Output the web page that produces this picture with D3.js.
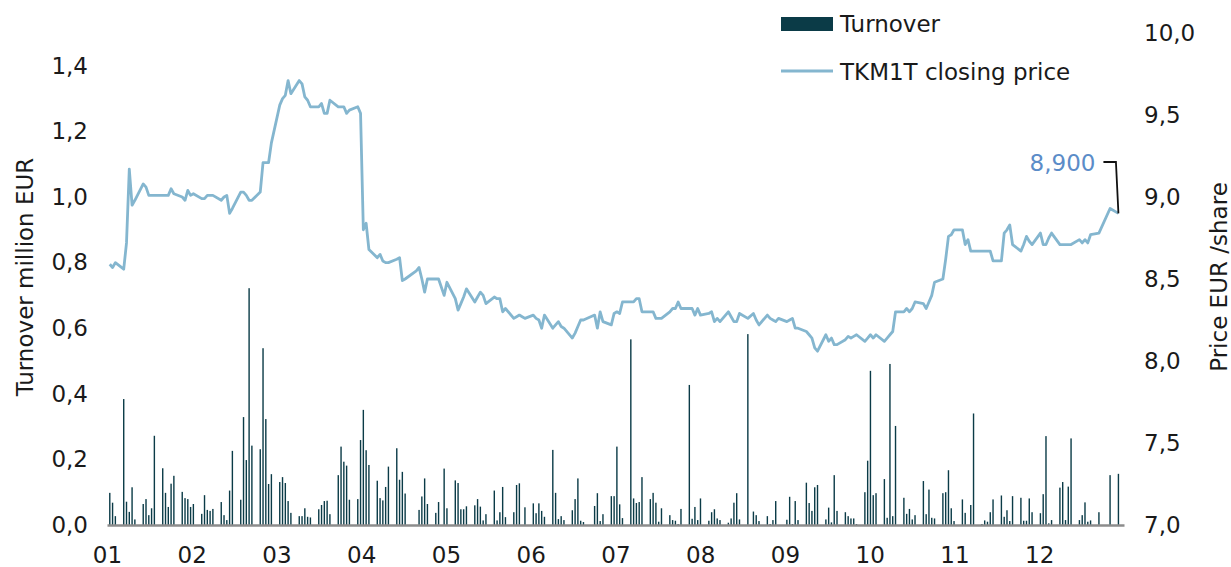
<!DOCTYPE html>
<html>
<head>
<meta charset="utf-8">
<script src="https://cdn.jsdelivr.net/npm/d3@7"></script>
<style>
  body { margin: 0; background: #fff; }
  svg text { font-family: "DejaVu Sans", sans-serif; fill: #1a1a1a; }
</style>
</head>
<body>
<svg id="chart" width="1231" height="567"></svg>
<script>
// TKM1T 2019 - daily turnover (million EUR) and closing price (EUR), one value per trading day
const year = 2019;
const holidays = ['2019-01-01', '2019-04-19', '2019-05-01', '2019-06-24', '2019-08-20',
                  '2019-12-24', '2019-12-25', '2019-12-26', '2019-12-31'];
const months = ['01', '02', '03', '04', '05', '06', '07', '08', '09', '10', '11', '12'];
const turnoverTicks = [0, 0.2, 0.4, 0.6, 0.8, 1.0, 1.2, 1.4];
const priceTicks = [7, 7.5, 8, 8.5, 9, 9.5, 10];

const closingPrice = [
  8.59, 8.57, 8.60, 8.56, 8.72, 9.17, 8.95, 8.98, 9.08, 9.06,
  9.01, 9.01, 9.01, 9.01, 9.01, 9.01, 9.05, 9.02, 9.00, 8.98,
  9.04, 9.01, 9.02, 8.99, 8.99, 9.01, 9.01, 9.01, 8.98, 9.00,
  9.01, 8.90, 8.93, 9.03, 9.03, 9.01, 8.98, 8.98, 9.03, 9.21,
  9.21, 9.21, 9.33, 9.56, 9.60, 9.62, 9.71, 9.63, 9.71, 9.69,
  9.61, 9.59, 9.55, 9.55, 9.57, 9.51, 9.51, 9.59, 9.55, 9.55,
  9.55, 9.51, 9.53, 9.55, 9.51, 8.80, 8.84, 8.68, 8.63, 8.65,
  8.61, 8.60, 8.60, 8.62, 8.63, 8.49, 8.50, 8.55, 8.57, 8.50,
  8.42, 8.50, 8.50, 8.50, 8.40, 8.48, 8.38, 8.31, 8.35, 8.39,
  8.44, 8.36, 8.39, 8.42, 8.40, 8.35, 8.39, 8.38, 8.38, 8.30,
  8.32, 8.26, 8.27, 8.28, 8.27, 8.26, 8.28, 8.26, 8.25, 8.20,
  8.28, 8.20, 8.22, 8.24, 8.21, 8.20, 8.14, 8.17, 8.21, 8.25,
  8.25, 8.28, 8.20, 8.30, 8.24, 8.22, 8.29, 8.30, 8.29, 8.36,
  8.36, 8.36, 8.38, 8.38, 8.30, 8.30, 8.30, 8.26, 8.26, 8.26,
  8.30, 8.32, 8.32, 8.36, 8.32, 8.32, 8.32, 8.28, 8.32, 8.28,
  8.29, 8.30, 8.24, 8.26, 8.24, 8.30, 8.27, 8.24, 8.24, 8.29,
  8.26, 8.29, 8.25, 8.22, 8.28, 8.26, 8.25, 8.24, 8.26, 8.24,
  8.25, 8.26, 8.20, 8.20, 8.18, 8.16, 8.14, 8.08, 8.06, 8.16,
  8.12, 8.14, 8.10, 8.10, 8.13, 8.15, 8.14, 8.15, 8.16, 8.12,
  8.14, 8.16, 8.14, 8.16, 8.12, 8.14, 8.16, 8.18, 8.30, 8.30,
  8.32, 8.30, 8.32, 8.36, 8.35, 8.32, 8.36, 8.40, 8.48, 8.50,
  8.62, 8.76, 8.77, 8.80, 8.80, 8.71, 8.74, 8.67, 8.67, 8.67,
  8.67, 8.67, 8.67, 8.61, 8.61, 8.78, 8.80, 8.83, 8.71, 8.67,
  8.71, 8.76, 8.73, 8.71, 8.78, 8.71, 8.71, 8.75, 8.78, 8.71,
  8.71, 8.71, 8.71, 8.71, 8.74, 8.72, 8.74, 8.72, 8.77, 8.78,
  8.93, 8.90
];

const turnover = [
  0.098, 0.068, 0.027, 0.384, 0.071, 0.040, 0.115, 0.017, 0.064, 0.079,
  0.030, 0.051, 0.272, 0.173, 0.098, 0.055, 0.126, 0.150, 0.101, 0.082,
  0.079, 0.055, 0.064, 0.034, 0.091, 0.046, 0.043, 0.049, 0.070, 0.030,
  0.015, 0.105, 0.226, 0.077, 0.329, 0.198, 0.722, 0.242, 0.231, 0.539,
  0.323, 0.125, 0.155, 0.131, 0.146, 0.128, 0.073, 0.037, 0.027, 0.027,
  0.051, 0.025, 0.023, 0.048, 0.061, 0.073, 0.074, 0.033, 0.152, 0.239,
  0.193, 0.181, 0.077, 0.079, 0.259, 0.351, 0.228, 0.183, 0.135, 0.082,
  0.075, 0.116, 0.178, 0.234, 0.138, 0.162, 0.096, 0.000, 0.046, 0.087,
  0.142, 0.064, 0.037, 0.070, 0.172, 0.051, 0.136, 0.128, 0.048, 0.048,
  0.057, 0.060, 0.079, 0.056, 0.014, 0.033, 0.105, 0.014, 0.039, 0.116,
  0.024, 0.039, 0.122, 0.127, 0.000, 0.054, 0.066, 0.036, 0.066, 0.043,
  0.025, 0.229, 0.098, 0.018, 0.027, 0.015, 0.045, 0.079, 0.142, 0.013,
  0.009, 0.058, 0.097, 0.012, 0.033, 0.088, 0.088, 0.239, 0.063, 0.021,
  0.566, 0.081, 0.067, 0.070, 0.146, 0.079, 0.098, 0.068, 0.010, 0.051,
  0.030, 0.015, 0.013, 0.003, 0.049, 0.427, 0.019, 0.055, 0.015, 0.081,
  0.013, 0.039, 0.048, 0.020, 0.015, 0.007, 0.020, 0.068, 0.097, 0.017,
  0.582, 0.041, 0.030, 0.012, 0.027, 0.003, 0.015, 0.073, 0.000, 0.016,
  0.086, 0.003, 0.073, 0.015, 0.129, 0.067, 0.043, 0.115, 0.122, 0.017,
  0.053, 0.008, 0.152, 0.043, 0.039, 0.027, 0.020, 0.020, 0.003, 0.100,
  0.196, 0.470, 0.091, 0.097, 0.140, 0.022, 0.491, 0.027, 0.302, 0.083,
  0.034, 0.049, 0.017, 0.030, 0.134, 0.033, 0.108, 0.022, 0.020, 0.097,
  0.100, 0.167, 0.051, 0.012, 0.078, 0.037, 0.000, 0.061, 0.340, 0.003,
  0.014, 0.010, 0.039, 0.078, 0.090, 0.025, 0.045, 0.012, 0.088, 0.083,
  0.013, 0.013, 0.081, 0.039, 0.036, 0.094, 0.271, 0.005, 0.015, 0.114,
  0.131, 0.015, 0.117, 0.264, 0.015, 0.030, 0.069, 0.010, 0.014, 0.039,
  0.152, 0.156
];

// trading days: weekdays of the year without exchange holidays
const fmtDay = d3.timeFormat('%Y-%m-%d');
const tradingDays = d3.timeDays(new Date(year, 0, 1), new Date(year + 1, 0, 1))
  .filter(d => d.getDay() !== 0 && d.getDay() !== 6 && !holidays.includes(fmtDay(d)));

const data = tradingDays.map((d, i) => ({ date: d, turnover: turnover[i], price: closingPrice[i] }));

const locale = d3.formatLocale({ decimal: ',', thousands: ' ', grouping: [3], currency: ['', ' €'] });
const fmt1 = locale.format('.1f');
const fmt3 = locale.format('.3f');

const svg = d3.select('#chart');
const margin = { left: 107, right: 1124, top: 33, bottom: 525 };
const fontSize = '23px';

const x = d3.scaleTime()
  .domain([new Date(year, 0, 1), new Date(year + 1, 0, 1)])
  .range([margin.left, margin.right]);
const xMonth = d3.scaleLinear().domain([0, 12]).range([margin.left, margin.right]);
const yL = d3.scaleLinear().domain([0, 1.5]).range([margin.bottom, margin.top]);
const yR = d3.scaleLinear().domain([7, 10]).range([margin.bottom, margin.top]);

// bars
svg.append('g')
  .selectAll('rect')
  .data(data)
  .enter().append('rect')
    .attr('x', d => x(d.date) - 0.7)
    .attr('y', d => yL(d.turnover))
    .attr('width', 1.4)
    .attr('height', d => margin.bottom - yL(d.turnover))
    .attr('fill', '#0b3b47');

// x axis: baseline + month labels
const xAxis = svg.append('g')
  .attr('transform', `translate(0,${margin.bottom})`)
  .call(d3.axisBottom(xMonth)
    .tickValues(d3.range(12))
    .tickFormat(i => months[i])
    .tickSize(0)
    .tickPadding(22));
xAxis.select('.domain').attr('stroke', '#8c8c8c').attr('stroke-width', 2.5);
xAxis.selectAll('text').style('font-size', fontSize).attr('fill', '#1a1a1a');

// left axis
const yAxisL = svg.append('g')
  .attr('transform', 'translate(88,0)')
  .call(d3.axisLeft(yL).tickValues(turnoverTicks).tickFormat(fmt1).tickSize(0).tickPadding(0));
yAxisL.select('.domain').remove();
yAxisL.selectAll('text').style('font-size', fontSize).attr('fill', '#1a1a1a');

// right axis
const yAxisR = svg.append('g')
  .attr('transform', 'translate(1144,0)')
  .call(d3.axisRight(yR).tickValues(priceTicks).tickFormat(fmt1).tickSize(0).tickPadding(0));
yAxisR.select('.domain').remove();
yAxisR.selectAll('text').style('font-size', fontSize).attr('fill', '#1a1a1a');

// price line
const line = d3.line()
  .x(d => x(d.date))
  .y(d => yR(d.price));

svg.append('path')
  .datum(data)
  .attr('fill', 'none')
  .attr('stroke', '#84b6cf')
  .attr('stroke-width', 2.8)
  .attr('stroke-linejoin', 'round')
  .attr('d', line);

// axis titles
const midY = 277;
svg.append('text')
  .attr('transform', `translate(33,${midY}) rotate(-90)`)
  .attr('text-anchor', 'middle')
  .style('font-size', fontSize)
  .text('Turnover million EUR');

svg.append('text')
  .attr('transform', `translate(1227,${midY}) rotate(-90)`)
  .attr('text-anchor', 'middle')
  .style('font-size', fontSize)
  .text('Price EUR /share');

// legend
const legend = svg.append('g').attr('transform', 'translate(781,0)');
legend.append('rect')
  .attr('x', 0).attr('y', 17).attr('width', 52).attr('height', 14)
  .attr('fill', '#0b3b47');
legend.append('text')
  .attr('x', 59).attr('y', 32)
  .style('font-size', fontSize)
  .text('Turnover');
legend.append('line')
  .attr('x1', 0).attr('x2', 52).attr('y1', 71).attr('y2', 71)
  .attr('stroke', '#84b6cf').attr('stroke-width', 2.8);
legend.append('text')
  .attr('x', 59).attr('y', 80)
  .style('font-size', fontSize)
  .text('TKM1T closing price');

// last price annotation
const last = data[data.length - 1];
const lx = x(last.date), ly = yR(last.price);
svg.append('path')
  .attr('d', `M${lx - 15},162 H${lx - 2.5} L${lx},${ly}`)
  .attr('fill', 'none')
  .attr('stroke', '#111')
  .attr('stroke-width', 1.8);
svg.append('text')
  .attr('x', lx - 23).attr('y', 171)
  .attr('text-anchor', 'end')
  .style('font-size', fontSize)
  .style('fill', '#5b8cc8')
  .text(fmt3(last.price));
</script>
</body>
</html>
